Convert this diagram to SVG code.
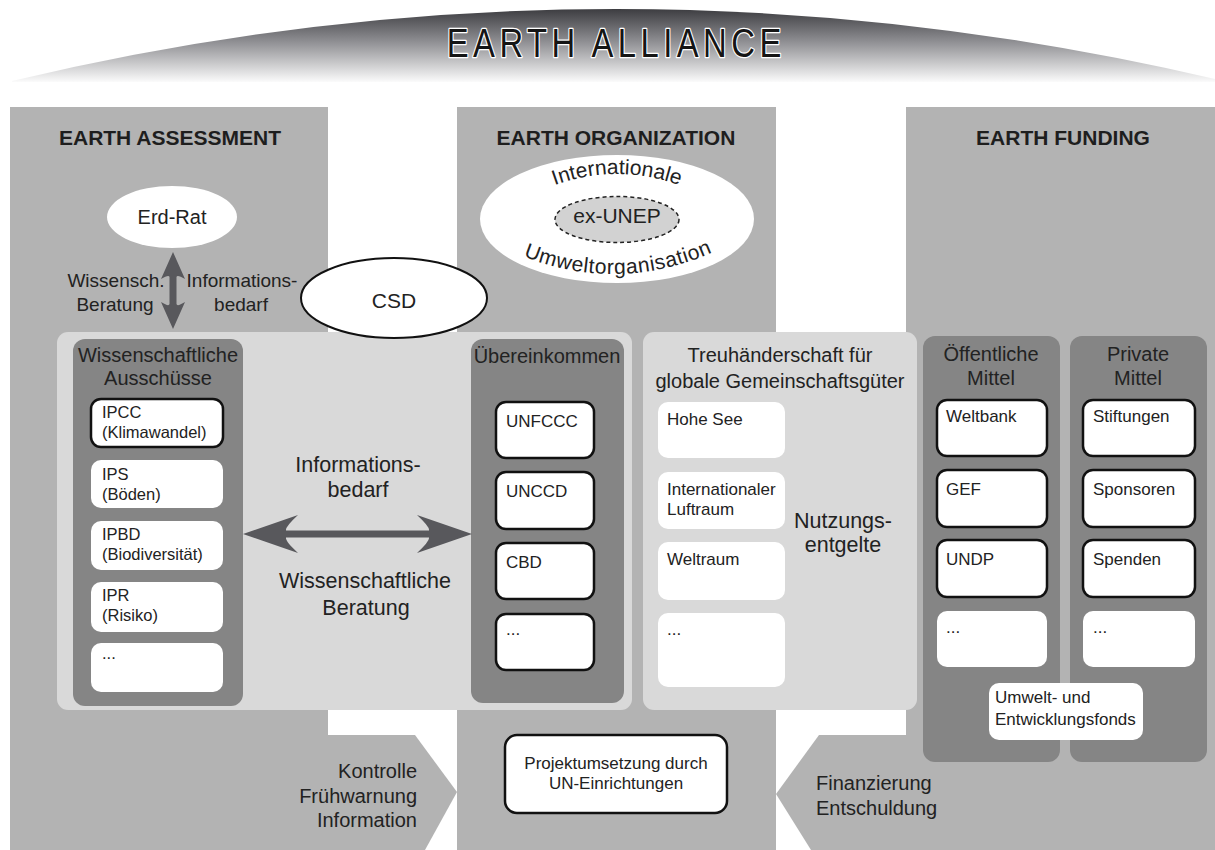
<svg xmlns="http://www.w3.org/2000/svg" width="1215" height="850" viewBox="0 0 1215 850">
  <defs>
    <linearGradient id="domeGrad" gradientUnits="userSpaceOnUse" x1="0" y1="8" x2="0" y2="82">
      <stop offset="0" stop-color="#3a3a3e"/>
      <stop offset="0.45" stop-color="#8e8e92"/>
      <stop offset="1" stop-color="#fbfbfb"/>
    </linearGradient>
    <path id="arcTop" d="M 540,191 Q 617,157 694,191"/>
    <path id="arcBottom" d="M 518,254 Q 617,296 718,250"/>
  </defs>
  <style>
    .t { font-family: "Liberation Sans", Arial, sans-serif; fill: #222; }
    .hd { font-weight: bold; font-size: 21px; text-anchor: middle; fill: #1e1e1e; }
    .ph { font-size: 20px; text-anchor: middle; }
    .bx { font-size: 17px; }
    .bxs { font-size: 16.5px; }
    .lb { font-size: 21.5px; text-anchor: middle; }
    .sm { font-size: 19px; text-anchor: middle; }
    .col { fill: #b3b3b3; }
    .light { fill: #d9d9d9; }
    .dark { fill: #858585; }
    .card { fill: #ffffff; }
    .cardb { fill: #ffffff; stroke: #111; stroke-width: 2.5; }
    .arrow { fill: #58585c; }
  </style>

  <rect width="1215" height="850" fill="#ffffff"/>

  <!-- alliance dome -->
  <g id="alliance">
    <path d="M 12,81 Q 610,-62 1215,79 L 1215,82 L 12,82 Z" fill="url(#domeGrad)"/>
    <!-- narrowed, widely tracked title -->
    <text transform="scale(0.82,1)" x="748.8" y="57" text-anchor="middle" font-family="'Liberation Sans', Arial, sans-serif" font-size="40" textLength="408" lengthAdjust="spacing" fill="#151515" stroke="#ffffff" stroke-width="2.5" paint-order="stroke" stroke-linejoin="round">EARTH ALLIANCE</text>
  </g>

  <!-- three pillars -->
  <g id="pillar-assessment">
    <rect class="col" x="10" y="107" width="318" height="743"/>
    <polygon class="col" points="327,735 415,735 457,792 425,850 327,850"/>
    <text class="t hd" x="170" y="145">EARTH ASSESSMENT</text>
  </g>
  <g id="pillar-organization">
    <rect class="col" x="457" y="107" width="319" height="743"/>
    <text class="t hd" x="616" y="145">EARTH ORGANIZATION</text>
  </g>
  <g id="pillar-funding">
    <rect class="col" x="906" y="107" width="309" height="743"/>
    <polygon class="col" points="907,735 819,735 776,794 811,850 907,850"/>
    <text class="t hd" x="1063" y="145">EARTH FUNDING</text>
  </g>

  <!-- environment organisation -->
  <g id="unep">
    <ellipse cx="617" cy="219" rx="137" ry="64" fill="#ffffff"/>
    <ellipse cx="617" cy="219.5" rx="62" ry="23" fill="#d2d2d2" stroke="#222" stroke-width="1.5" stroke-dasharray="4 3"/>
    <text class="t" x="617" y="223" font-size="21" text-anchor="middle">ex-UNEP</text>
    <text class="t" font-size="21"><textPath href="#arcTop" startOffset="50%" text-anchor="middle">Internationale</textPath></text>
    <text class="t" font-size="21" letter-spacing="0.6"><textPath href="#arcBottom" startOffset="50%" text-anchor="middle">Umweltorganisation</textPath></text>
  </g>

  <!-- earth council -->
  <g id="erd-rat">
    <ellipse cx="172" cy="217" rx="65" ry="31" fill="#ffffff"/>
    <text class="t" x="172" y="224" font-size="20" text-anchor="middle">Erd-Rat</text>
  </g>

  <!-- working panels -->
  <g id="panel-science">
    <rect class="light" x="57" y="332" width="575" height="378" rx="11"/>
  </g>
  <g id="panel-commons">
    <rect class="light" x="643" y="332" width="274" height="378" rx="11"/>
    <text class="t ph" x="780" y="362">Treuhänderschaft für</text>
    <text class="t ph" x="780" y="388">globale Gemeinschaftsgüter</text>
    <rect class="card" x="658" y="402" width="127" height="56" rx="10"/>
    <text class="t bx" x="667" y="425">Hohe See</text>
    <rect class="card" x="658" y="472" width="127" height="57" rx="10"/>
    <text class="t bx" x="667" y="495">Internationaler</text>
    <text class="t bx" x="667" y="515">Luftraum</text>
    <rect class="card" x="658" y="542" width="127" height="58" rx="10"/>
    <text class="t bx" x="667" y="565">Weltraum</text>
    <rect class="card" x="658" y="613" width="127" height="74" rx="10"/>
    <text class="t bx" x="667" y="635">...</text>
    <text class="t lb" x="843" y="528">Nutzungs-</text>
    <text class="t lb" x="843" y="552">entgelte</text>
  </g>

  <!-- CSD -->
  <g id="csd">
    <ellipse cx="394" cy="298" rx="93" ry="40" fill="#ffffff" stroke="#111" stroke-width="2"/>
    <text class="t" x="394" y="308" font-size="21" text-anchor="middle">CSD</text>
  </g>

  <!-- scientific committees -->
  <g id="ausschuesse">
    <rect class="dark" x="73" y="339" width="170" height="367" rx="12"/>
    <text class="t ph" x="158" y="362">Wissenschaftliche</text>
    <text class="t ph" x="158" y="385">Ausschüsse</text>
    <rect class="cardb" x="91" y="399" width="132" height="48" rx="10"/>
    <text class="t bxs" x="102" y="418">IPCC</text>
    <text class="t bxs" x="102" y="438">(Klimawandel)</text>
    <rect class="card" x="91" y="460" width="132" height="48" rx="10"/>
    <text class="t bxs" x="102" y="480">IPS</text>
    <text class="t bxs" x="102" y="500">(Böden)</text>
    <rect class="card" x="91" y="521" width="132" height="49" rx="10"/>
    <text class="t bxs" x="102" y="540">IPBD</text>
    <text class="t bxs" x="102" y="560">(Biodiversität)</text>
    <rect class="card" x="91" y="582" width="132" height="50" rx="10"/>
    <text class="t bxs" x="102" y="601">IPR</text>
    <text class="t bxs" x="102" y="621">(Risiko)</text>
    <rect class="card" x="91" y="643" width="132" height="49" rx="10"/>
    <text class="t bxs" x="102" y="659">...</text>
  </g>

  <!-- conventions -->
  <g id="uebereinkommen">
    <rect class="dark" x="471" y="339" width="153" height="364" rx="12"/>
    <text class="t ph" x="547" y="363">Übereinkommen</text>
    <rect class="cardb" x="496" y="402" width="98" height="56" rx="10"/>
    <text class="t bx" x="506" y="427">UNFCCC</text>
    <rect class="cardb" x="496" y="472" width="98" height="57" rx="10"/>
    <text class="t bx" x="506" y="497">UNCCD</text>
    <rect class="cardb" x="496" y="543" width="98" height="56" rx="10"/>
    <text class="t bx" x="506" y="568">CBD</text>
    <rect class="cardb" x="496" y="614" width="98" height="56" rx="10"/>
    <text class="t bx" x="506" y="635">...</text>
  </g>

  <!-- public funds -->
  <g id="oeffentliche-mittel">
    <rect class="dark" x="923" y="336" width="137" height="426" rx="12"/>
    <text class="t ph" x="991" y="361">Öffentliche</text>
    <text class="t ph" x="991" y="385">Mittel</text>
    <rect class="cardb" x="937" y="400" width="110" height="56" rx="10"/>
    <text class="t bx" x="946" y="422">Weltbank</text>
    <rect class="cardb" x="937" y="470" width="110" height="57" rx="10"/>
    <text class="t bx" x="946" y="495">GEF</text>
    <rect class="cardb" x="937" y="540" width="110" height="57" rx="10"/>
    <text class="t bx" x="946" y="565">UNDP</text>
    <rect class="card" x="937" y="611" width="110" height="56" rx="10"/>
    <text class="t bx" x="946" y="633">...</text>
  </g>

  <!-- private funds -->
  <g id="private-mittel">
    <rect class="dark" x="1070" y="336" width="137" height="426" rx="12"/>
    <text class="t ph" x="1138" y="361">Private</text>
    <text class="t ph" x="1138" y="385">Mittel</text>
    <rect class="cardb" x="1083" y="400" width="112" height="56" rx="10"/>
    <text class="t bx" x="1093" y="422">Stiftungen</text>
    <rect class="cardb" x="1083" y="470" width="112" height="57" rx="10"/>
    <text class="t bx" x="1093" y="495">Sponsoren</text>
    <rect class="cardb" x="1083" y="540" width="112" height="57" rx="10"/>
    <text class="t bx" x="1093" y="565">Spenden</text>
    <rect class="card" x="1083" y="611" width="112" height="56" rx="10"/>
    <text class="t bx" x="1093" y="633">...</text>
  </g>

  <g id="fonds">
    <rect class="card" x="989" y="683" width="154" height="57" rx="10"/>
    <text class="t bx" x="995" y="703">Umwelt- und</text>
    <text class="t bx" x="995" y="725">Entwicklungsfonds</text>
  </g>

  <g id="projektumsetzung">
    <rect class="cardb" x="505" y="735" width="222" height="78" rx="12"/>
    <text class="t" x="616" y="769" font-size="17" text-anchor="middle">Projektumsetzung durch</text>
    <text class="t" x="616" y="789" font-size="17" text-anchor="middle">UN-Einrichtungen</text>
  </g>

  <!-- connectors and their labels -->
  <g id="connectors">
    <path class="arrow" d="M173,252 L185,279 Q177,274 176.5,277 L176.5,304 Q177,307 185,302 L173,329 L161,302 Q169,307 169.5,304 L169.5,277 Q169,274 161,279 Z"/>
    <text class="t sm" x="116" y="287">Wissensch.</text>
    <text class="t sm" x="115" y="311">Beratung</text>
    <text class="t sm" x="242" y="287">Informations-</text>
    <text class="t sm" x="241" y="311">bedarf</text>

    <path class="arrow" d="M243,534 L298,515 Q285,527 286,530.5 L429,530.5 Q430,527 417,515 L472,534 L417,553 Q430,541 429,537.5 L286,537.5 Q285,541 298,553 Z"/>
    <text class="t lb" x="358" y="472">Informations-</text>
    <text class="t lb" x="358" y="497">bedarf</text>
    <text class="t lb" x="365" y="588">Wissenschaftliche</text>
    <text class="t lb" x="366" y="615">Beratung</text>

    <text class="t" x="417" y="778" font-size="20" text-anchor="end">Kontrolle</text>
    <text class="t" x="417" y="803" font-size="20" text-anchor="end">Frühwarnung</text>
    <text class="t" x="417" y="827" font-size="20" text-anchor="end">Information</text>
    <text class="t" x="816" y="790" font-size="20">Finanzierung</text>
    <text class="t" x="816" y="815" font-size="20">Entschuldung</text>
  </g>
</svg>
